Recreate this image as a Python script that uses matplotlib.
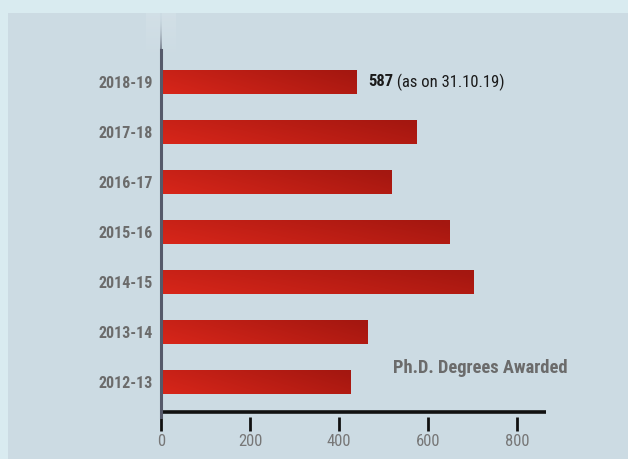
import matplotlib
matplotlib.use("Agg")
import matplotlib.pyplot as plt
import numpy as np
from matplotlib.patches import Rectangle
from matplotlib import font_manager as fm

years = ["2012-13", "2013-14", "2014-15", "2015-16", "2016-17", "2017-18", "2018-19"]
degrees = [425, 465, 701, 649, 517, 573, 440]
note_value = "587"
note_text = " (as on 31.10.19)"
xticks = [0, 200, 400, 600, 800]
title = "Ph.D. Degrees Awarded"

names = sorted({f.name for f in fm.fontManager.ttflist})
narrow = [n for n in names if ("Condensed" in n or "Narrow" in n)]
pref = ["Roboto Condensed", "Liberation Sans Narrow", "Open Sans Condensed", "DejaVu Sans Condensed"]
fam = next((p for p in pref if p in names), narrow[0] if narrow else "Roboto")
plt.rcParams["font.family"] = [fam, "DejaVu Sans"]

W, H = 628, 459
fig = plt.figure(figsize=(W / 100, H / 100), dpi=100)
fig.patch.set_facecolor("#d9ebf0")
fig.patches.append(Rectangle((8 / W, 0), 1, (H - 13) / H, transform=fig.transFigure,
                             facecolor="#ccdbe3", edgecolor="none", zorder=-10))

left, right = 161 / W, 546 / W
bottom, top = (H - 417) / H, (H - 50) / H
ax = fig.add_axes([left, bottom, right - left, top - bottom])
ax.set_facecolor("none")

ypos = np.arange(len(years))
bars = ax.barh(ypos, degrees, height=0.49, color="none", edgecolor="none", zorder=2)

# gradient fill
gx = np.linspace(0, 1, 200)
gy = np.linspace(0, 1, 30)
GX, GY = np.meshgrid(gx, gy)
c0 = np.array([0xd8, 0x26, 0x1a]) / 255
c1 = np.array([0xa4, 0x17, 0x10]) / 255
t = np.clip(0.75 * GX + 0.3 * GY, 0, 1)[..., None]
img = c0 * (1 - t) + c1 * t
for b in bars:
    x0, y0, w, h = b.get_x(), b.get_y(), b.get_width(), b.get_height()
    im = ax.imshow(img, extent=(x0, x0 + w, y0 + h, y0), aspect="auto",
                   interpolation="bilinear", zorder=2, origin="upper")
    im.set_clip_path(b)
ax.set_ylim(-0.7, 6.64)
ax.set_xlim(0, 865)

for s in ["top", "right", "bottom"]:
    ax.spines[s].set_visible(False)
ax.spines["left"].set_color("#55596a")
ax.spines["left"].set_linewidth(2.2)
ax.spines["left"].set_zorder(3)

# faded top of the vertical axis (light column + line fading in downward)
n = 60
rows = np.linspace(0, 1, n)[:, None]          # 0 at bottom, 1 at top (origin lower)
col = np.zeros((n, 30, 4))
col[..., :3] = 1.0
col[..., 3] = 0.12 * rows
line_a = np.clip((1 - rows) * 1.1, 0, 1) ** 2
col[:, 14:16, :3] = np.array([0x55, 0x59, 0x6a]) / 255
col[:, 14:16, 3] = line_a
fax = fig.add_axes([146 / W, (H - 62) / H, 30 / W, 49 / H], zorder=-1)
fax.set_axis_off()
fax.imshow(col, aspect="auto", extent=(0, 1, 0, 1), origin="lower", interpolation="bilinear")

ax.axhline(-0.6, color="#111111", lw=2.6, zorder=3, xmin=-0.003)

ax.set_yticks(ypos)
ax.set_yticklabels(years, fontsize=11.5, fontweight="bold", color="#6b6b6b")
ax.tick_params(axis="y", length=0, pad=6)
ax.set_xticks(xticks)
ax.set_xticklabels([str(v) for v in xticks], fontsize=12, color="#777777")
ax.tick_params(axis="x", which="major", direction="out", length=10, width=2.0,
               color="#111111", pad=2, bottom=True)
for tl in ax.xaxis.get_ticklines():
    tl.set_zorder(5)

# annotation on top bar
top_bar = bars[-1]
ann = ax.annotate(note_value, xy=(top_bar.get_width(), ypos[-1]), xytext=(8, 0),
                  textcoords="offset points", va="center", ha="left",
                  fontsize=12, fontweight="bold", color="#1a1a1a")
fig.canvas.draw()
ax.annotate(note_text, xy=(1, 0.5), xycoords=ann, va="center", ha="left",
            fontsize=12, color="#1a1a1a")

ax.text(568 / W, (H - 368) / H, title, transform=fig.transFigure, ha="right", va="center",
        fontsize=13.3, fontweight="bold", color="#6b6b6b")

fig.savefig("out.png", dpi=100, facecolor=fig.get_facecolor())
